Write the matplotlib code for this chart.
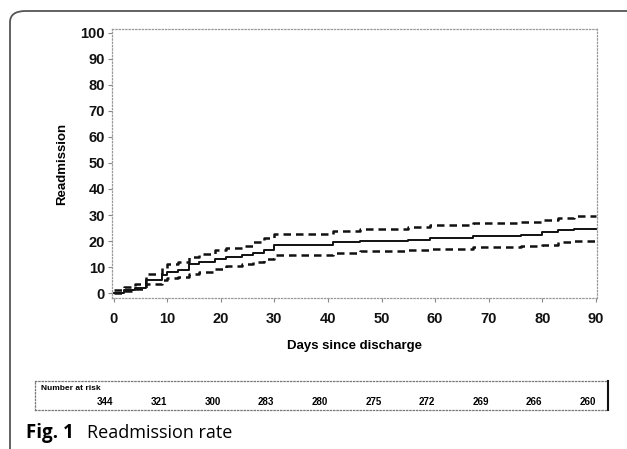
import matplotlib
matplotlib.use("Agg")
import matplotlib.pyplot as plt
from matplotlib.patches import FancyBboxPatch
from matplotlib.transforms import blended_transform_factory

# Kaplan-Meier style readmission estimate (step, post) with 95% CI
days = [0, 2, 4, 6, 9, 10, 12, 14, 16, 19, 21, 24, 26, 28, 30, 41, 46, 55, 59, 67, 76, 80, 83, 86, 90]
rate = [0, 1, 2, 5, 7, 8, 9, 11, 12, 13, 14, 14.5, 15.5, 16.5, 18.5, 19.5, 20.2, 20.5, 21.1, 22, 22.5, 23.3, 24.2, 24.5, 24.5]
upper = [1, 2.5, 3.5, 7.5, 9.5, 11, 12, 14, 15, 16.5, 17.5, 18, 19.5, 21, 22.8, 24, 24.8, 25.5, 26.3, 27, 27.5, 28, 29, 29.5, 29.5]
lower = [0, 0.8, 1.5, 3.5, 5, 5.8, 6.3, 7.2, 8, 9.3, 10.5, 11, 12, 13, 14.7, 15.3, 16, 16.4, 17, 17.6, 18, 18.6, 19.6, 20, 20]

risk_days = [0, 10, 20, 30, 40, 50, 60, 70, 80, 90]
at_risk = [344, 321, 300, 283, 280, 275, 272, 269, 266, 260]

W, H = 627, 449
fig = plt.figure(figsize=(W / 100, H / 100), dpi=100)


def box(l, t, r, b):
    return [l / W, 1 - b / H, (r - l) / W, (b - t) / H]


# outer frame (rounded, runs off right and bottom)
frame = FancyBboxPatch((10 / W, -0.1), 1.2, 1 - 11 / H + 0.1,
                       boxstyle="round,pad=0,rounding_size=0.025",
                       transform=fig.transFigure, fill=False,
                       edgecolor="#555555", linewidth=1.3, clip_on=False)
fig.patches.append(frame)

ax = fig.add_axes(box(112, 29, 597, 298))
ax.step(days, rate, where="post", color="#111111", linewidth=1.4)
ax.step(days, upper, where="post", color="#111111", linewidth=1.8, linestyle=(0, (3, 2)))
ax.step(days, lower, where="post", color="#111111", linewidth=1.8, linestyle=(0, (3, 2)))

ax.set_xlim(-0.3, 90.2)
ax.set_ylim(-1.9, 101.5)
ax.set_xticks(range(0, 91, 10))
ax.set_yticks(range(0, 101, 10))
for s in ax.spines.values():
    s.set_linestyle(":")
    s.set_color("#999999")
    s.set_linewidth(0.9)
ax.tick_params(axis="both", length=3, width=0.8, color="#888888",
               labelsize=10.5, labelcolor="#111111")
ax.tick_params(axis="x", pad=7)
ax.tick_params(axis="y", pad=2)
for lab in ax.get_xticklabels() + ax.get_yticklabels():
    lab.set_fontweight("bold")
    lab.set_family("Liberation Sans")
ax.set_xlabel("Days since discharge", fontsize=9.5, fontweight="bold",
              family="Liberation Sans", labelpad=10)
ax.set_ylabel("Readmission", fontsize=9.5, fontweight="bold",
              family="Liberation Sans", labelpad=9)

# number at risk table
rax = fig.add_axes(box(35, 381, 608, 410))
rax.set_xticks([])
rax.set_yticks([])
for s in rax.spines.values():
    s.set_linestyle(":")
    s.set_color("#777777")
    s.set_linewidth(0.9)
rax.spines["right"].set_linestyle("-")
rax.spines["right"].set_color("#111111")
rax.spines["right"].set_linewidth(1.5)
rax.text(6 / 573, 0.74, "Number at risk", transform=rax.transAxes,
         fontsize=6, fontweight="bold", family="Liberation Sans",
         ha="left", va="center")
tr = blended_transform_factory(ax.transData, rax.transAxes)
for d, n in zip(risk_days, at_risk):
    rax.text(d, 0.29, str(n), transform=tr, fontsize=7, fontweight="bold",
             family="Liberation Sans", ha="right", va="center")

fig.text(26 / W, 1 - 433 / H, "Fig. 1", fontsize=13.5, fontweight="bold",
         family="Open Sans", va="center", ha="left")
fig.text(87 / W, 1 - 433 / H, "Readmission rate", fontsize=13,
         family="Open Sans", va="center", ha="left")

fig.savefig("out.png", dpi=100)
